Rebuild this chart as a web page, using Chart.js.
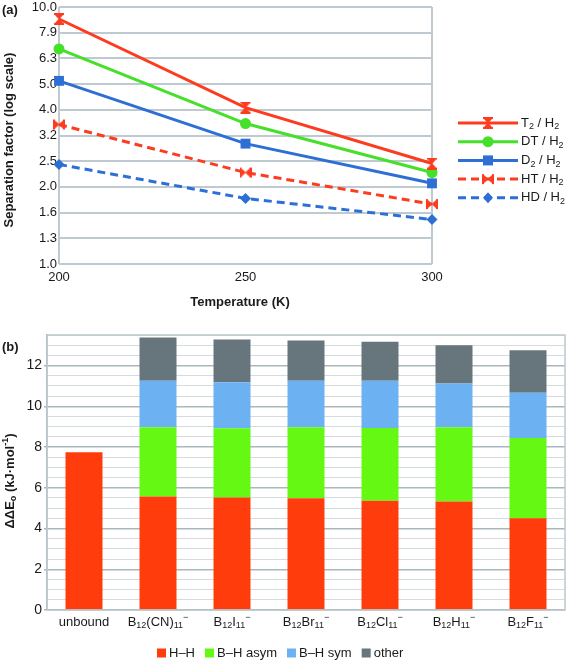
<!DOCTYPE html>
<html>
<head>
<meta charset="utf-8">
<script src="https://cdn.jsdelivr.net/npm/chart.js@4.4.0/dist/chart.umd.min.js"></script>
<style>
body { margin: 0; background: #fff; }
#wrap { position: relative; width: 567px; height: 662px; }
canvas { position: absolute; left: 0; }
#sepChart { top: 0; }
#zpeChart { top: 320px; }
</style>
</head>
<body>
<div id="wrap">
  <canvas id="sepChart" width="567" height="320"></canvas>
  <canvas id="zpeChart" width="567" height="342"></canvas>
</div>
<script>
// ---- data (a): separation factors ----
const temps = [200, 250, 300];
const xTicks = [200, 250, 300];
const logTickLabels = ['1.0', '1.3', '1.6', '2.0', '2.5', '3.2', '4.0', '5.0', '6.3', '7.9', '10.0'];
const t2 = [8.98, 4.06, 2.46];
const dt = [6.87, 3.52, 2.27];
const d2 = [5.16, 2.94, 2.06];
const ht = [3.49, 2.27, 1.71];
const hd = [2.44, 1.80, 1.49];
const sepNames = ['T_{2} / H_{2}', 'DT / H_{2}', 'D_{2} / H_{2}', 'HT / H_{2}', 'HD / H_{2}'];

// ---- data (b): ZPE differences ----
const categories = ['unbound', 'B_{12}(CN)_{11}^{-}', 'B_{12}I_{11}^{-}', 'B_{12}Br_{11}^{-}',
                    'B_{12}Cl_{11}^{-}', 'B_{12}H_{11}^{-}', 'B_{12}F_{11}^{-}'];
const hh     = [7.74, 5.57, 5.52, 5.48, 5.36, 5.33, 4.51];
const bhAsym = [null, 3.40, 3.40, 3.49, 3.58, 3.64, 3.93];
const bhSym  = [null, 2.29, 2.26, 2.29, 2.32, 2.15, 2.23];
const other  = [null, 2.12, 2.10, 1.97, 1.91, 1.88, 2.08];
const zpeNames = ['H–H', 'B–H asym', 'B–H sym', 'other'];

const FONT = "'Liberation Sans', Arial, sans-serif";
const TXT = '#1a1a1a';
const RED = '#fd3b1e', GREEN = '#45e02a', BLUE = '#2e6fd6';

// draws text with _{sub} and ^{sup} markup
function drawRich(ctx, markup, x, y, size, align, bold) {
    const parts = [];
    const re = /_\{([^}]*)\}|\^\{([^}]*)\}|([^_^]+)/g;
    let m;
    while ((m = re.exec(markup)) !== null) {
        if (m[1] !== undefined) parts.push({ t: m[1], k: 'sub' });
        else if (m[2] !== undefined) parts.push({ t: m[2] === '-' ? '−' : m[2], k: 'sup' });
        else parts.push({ t: m[3], k: '' });
    }
    const w = bold ? 'bold ' : '';
    let total = 0;
    parts.forEach(p => {
        p.size = p.k ? Math.round(size * 0.7) : size;
        ctx.font = w + p.size + 'px ' + FONT;
        p.w = ctx.measureText(p.t).width;
        total += p.w;
    });
    let cx = align === 'center' ? x - total / 2 : (align === 'right' ? x - total : x);
    ctx.textAlign = 'left';
    ctx.textBaseline = 'middle';
    parts.forEach(p => {
        ctx.font = w + p.size + 'px ' + FONT;
        let dy = 0;
        if (p.k === 'sub') dy = size * 0.3;
        if (p.k === 'sup') dy = -size * 0.35;
        ctx.fillText(p.t, cx, y + dy);
        cx += p.w;
    });
}

// hourglass / bowtie marker
function makeHourglass(color, horizontal) {
    const s = 12;
    const c = document.createElement('canvas');
    c.width = s; c.height = s;
    const g = c.getContext('2d');
    g.fillStyle = color;
    if (horizontal) {
        g.translate(s / 2, s / 2);
        g.rotate(Math.PI / 2);
        g.translate(-s / 2, -s / 2);
    }
    g.fillRect(1, 0, 10, 2);
    g.fillRect(1, 10, 10, 2);
    g.beginPath();
    g.moveTo(2, 2); g.lineTo(10, 2); g.lineTo(6, 6.5); g.closePath();
    g.moveTo(2, 10); g.lineTo(10, 10); g.lineTo(6, 5.5); g.closePath();
    g.fill();
    return c;
}

function drawMarker(ctx, style, color, x, y) {
    ctx.fillStyle = color;
    if (typeof style !== 'string') {
        ctx.drawImage(style, x - style.width / 2, y - style.height / 2);
        return;
    }
    ctx.beginPath();
    if (style === 'circle') ctx.arc(x, y, 5.5, 0, Math.PI * 2);
    if (style === 'rect') ctx.rect(x - 5, y - 5, 10, 10);
    if (style === 'rectRot') {
        ctx.moveTo(x, y - 5.5); ctx.lineTo(x + 5, y); ctx.lineTo(x, y + 5.5); ctx.lineTo(x - 5, y);
        ctx.closePath();
    }
    ctx.fill();
}

const sepSeries = [t2, dt, d2, ht, hd];
const sepColors = [RED, GREEN, BLUE, RED, BLUE];
const sepDash = [[], [], [], [8, 5], [8, 5]];
const sepStyles = [makeHourglass(RED, false), 'circle', 'rect', makeHourglass(RED, true), 'rectRot'];
const sepRadius = [6, 5.5, 7, 6, 5.5];

const gridTop = '#bfcad0';

const sepPlugin = {
    id: 'sepDecor',
    afterDraw(chart) {
        const ctx = chart.ctx;
        ctx.save();
        ctx.fillStyle = TXT;
        drawRich(ctx, '(a)', 2, 10, 13, 'left', true);
        drawRich(ctx, 'Temperature (K)', 240, 302, 13, 'center', true);
        ctx.save();
        ctx.translate(9, 140);
        ctx.rotate(-Math.PI / 2);
        drawRich(ctx, 'Separation factor (log scale)', 0, 0, 13, 'center', true);
        ctx.restore();

        // legend
        sepNames.forEach((name, i) => {
            const y = 123 + i * 18.7;
            ctx.strokeStyle = sepColors[i];
            ctx.lineWidth = 3;
            ctx.setLineDash(sepDash[i]);
            ctx.beginPath();
            ctx.moveTo(458, y); ctx.lineTo(518, y);
            ctx.stroke();
            ctx.setLineDash([]);
            drawMarker(ctx, sepStyles[i], sepColors[i], 488, y);
            ctx.fillStyle = TXT;
            drawRich(ctx, name, 521, y, 13, 'left', false);
        });
        ctx.restore();
    }
};

new Chart(document.getElementById('sepChart'), {
    type: 'line',
    data: {
        datasets: sepSeries.map((s, i) => ({
            label: sepNames[i],
            data: temps.map((t, j) => ({ x: t, y: s[j] })),
            borderColor: sepColors[i],
            backgroundColor: sepColors[i],
            borderWidth: 3,
            borderDash: sepDash[i],
            pointStyle: sepStyles[i],
            pointRadius: sepRadius[i],
            pointBorderWidth: 0,
            pointBackgroundColor: sepColors[i],
            clip: false
        }))
    },
    options: {
        responsive: false,
        animation: false,
        layout: { padding: { top: 6, right: 135, left: 0, bottom: 0 } },
        plugins: { legend: { display: false }, tooltip: { enabled: false } },
        scales: {
            x: {
                type: 'linear', min: 200, max: 300,
                afterBuildTicks: s => { s.ticks = xTicks.map(v => ({ value: v })); },
                afterFit: s => { s.height = 56; s.paddingLeft = 0; s.paddingRight = 0; },
                grid: {
                    color: c => (c.tick && c.tick.value === 250) ? 'rgba(0,0,0,0)' : gridTop,
                    lineWidth: 2, drawTicks: false
                },
                border: { display: false },
                ticks: { padding: 6, maxRotation: 0, color: TXT, font: { family: FONT, size: 13 } }
            },
            y: {
                type: 'logarithmic', min: 1, max: 10,
                afterBuildTicks: s => { s.ticks = logTickLabels.map((l, i) => ({ value: Math.pow(10, i / 10) })); },
                afterFit: s => { s.width = 59; s.paddingTop = 0; s.paddingBottom = 0; },
                grid: { color: gridTop, lineWidth: 2, drawTicks: false },
                border: { display: false },
                ticks: {
                    padding: 2, color: TXT, font: { family: FONT, size: 13 },
                    callback: v => logTickLabels[Math.round(Math.log10(v) * 10)]
                }
            }
        }
    },
    plugins: [sepPlugin]
});

// ---- chart (b) ----
const zpeSeries = [hh, bhAsym, bhSym, other];
const zpeColors = ['#ff3c0c', '#64f812', '#6cb2f3', '#67767d'];
const gridMajor = '#aab7bd', gridMinor = '#d5dcdf';

const zpePlugin = {
    id: 'zpeDecor',
    afterDraw(chart) {
        const ctx = chart.ctx;
        const a = chart.chartArea;
        const xs = chart.scales.x;
        ctx.save();
        ctx.strokeStyle = '#bcc7cc';
        ctx.lineWidth = 1.5;
        ctx.strokeRect(a.left, a.top, a.right - a.left, a.bottom - a.top);
        ctx.fillStyle = TXT;
        drawRich(ctx, '(b)', 2, 27, 13, 'left', true);
        ctx.save();
        ctx.translate(10, 161);
        ctx.rotate(-Math.PI / 2);
        drawRich(ctx, 'ΔΔE_{o} (kJ·mol^{-1})', 0, 0, 13, 'center', true);
        ctx.restore();
        categories.forEach((c, i) => {
            drawRich(ctx, c, xs.getPixelForValue(i), 302, 13, 'center', false);
        });
        // legend
        let x = 157;
        const y = 333;
        zpeNames.forEach((n, i) => {
            ctx.fillStyle = zpeColors[i];
            ctx.fillRect(x, y - 4.5, 9, 9);
            x += 12;
            ctx.fillStyle = TXT;
            ctx.font = '13px ' + FONT;
            const w = ctx.measureText(n).width;
            drawRich(ctx, n, x, y, 13, 'left', false);
            x += w + 10;
        });
        ctx.restore();
    }
};

new Chart(document.getElementById('zpeChart'), {
    type: 'bar',
    data: {
        labels: categories,
        datasets: zpeSeries.map((s, i) => ({
            label: zpeNames[i],
            data: s,
            backgroundColor: zpeColors[i],
            borderWidth: 0,
            barPercentage: 0.5,
            categoryPercentage: 1.0
        }))
    },
    options: {
        responsive: false,
        animation: false,
        layout: { padding: { top: 15, right: 2, left: 0, bottom: 0 } },
        plugins: { legend: { display: false }, tooltip: { enabled: false } },
        scales: {
            x: {
                stacked: true,
                afterFit: s => { s.height = 52; },
                grid: { display: false },
                border: { display: false },
                ticks: { display: false }
            },
            y: {
                stacked: true, min: 0, max: 13.5,
                afterBuildTicks: s => {
                    const t = [];
                    for (let i = 0; i <= 27; i++) t.push({ value: i * 0.5 });
                    s.ticks = t;
                },
                afterFit: s => { s.width = 47; },
                grid: {
                    color: c => (c.tick && c.tick.value % 2 === 0) ? gridMajor : gridMinor,
                    tickColor: c => (c.tick && c.tick.value % 2 === 0) ? gridMajor : 'rgba(0,0,0,0)',
                    lineWidth: c => (c.tick && c.tick.value % 2 === 0) ? 1.5 : 1,
                    drawTicks: true, tickLength: 3
                },
                border: { display: true, color: gridMajor, width: 1.5 },
                ticks: {
                    autoSkip: false, padding: 2, color: TXT, font: { family: FONT, size: 14 },
                    callback: v => (v % 2 === 0 ? String(v) : '')
                }
            }
        }
    },
    plugins: [zpePlugin]
});
</script>
</body>
</html>
